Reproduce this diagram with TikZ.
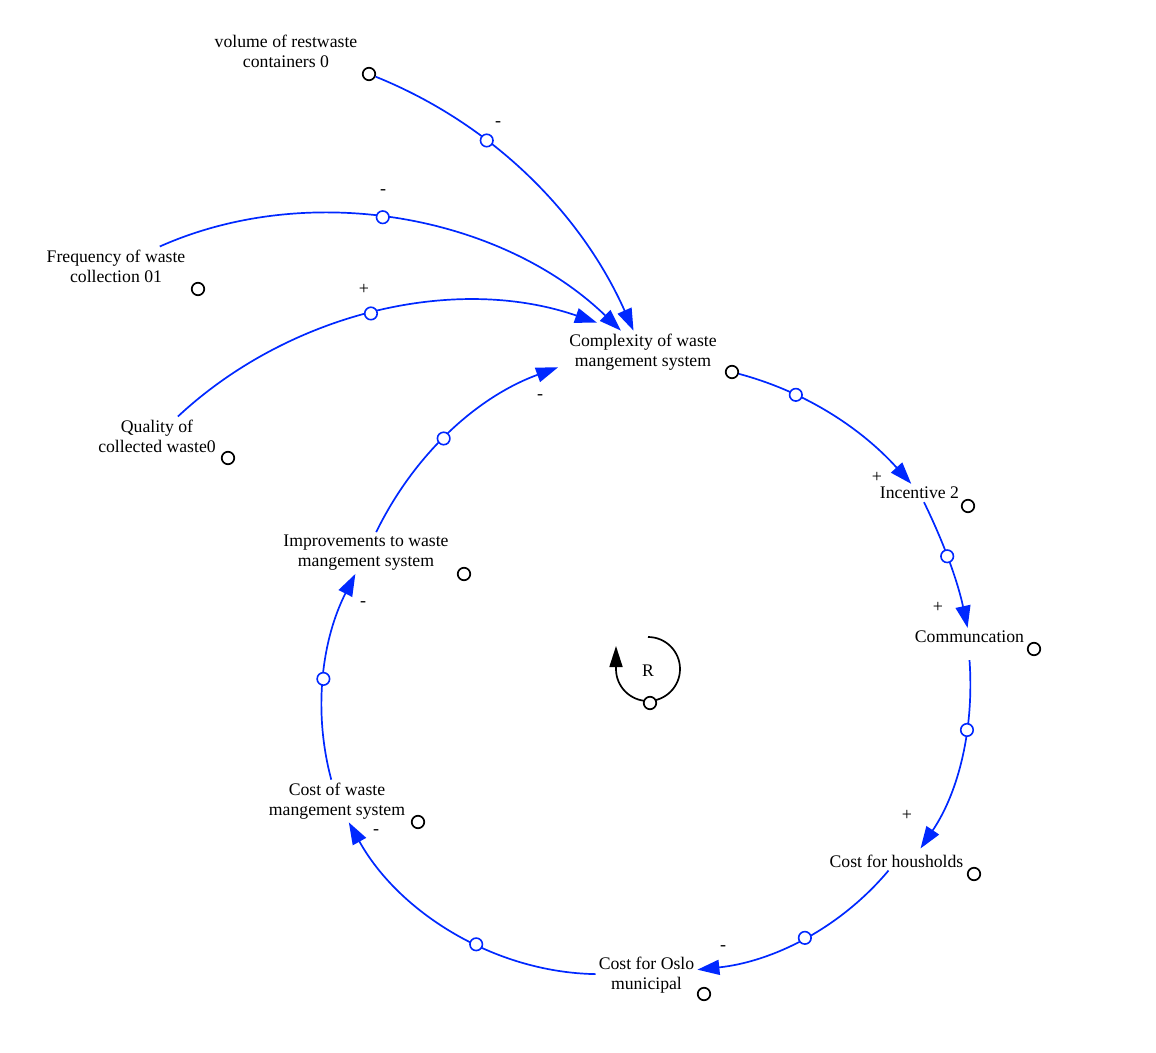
\documentclass[tikz,border=0pt]{standalone}
\usepackage{xcolor}
\usepackage{fontspec}
\setmainfont{Liberation Serif}
\usepackage{tikz}
\usetikzlibrary{arrows.meta, positioning}
\definecolor{linkblue}{RGB}{0,40,255}

\begin{document}
\begin{tikzpicture}[x=1pt, y=1pt]
\tikzstyle{var} = [align=center, inner sep=3pt, font=\fontsize{17.7}{20}\selectfont]
\tikzstyle{dot} = [circle, draw, line width=1.7pt, fill=white, minimum size=12.5pt, inner sep=0pt]
\tikzstyle{knot} = [circle, draw=linkblue, line width=1.6pt, fill=white, minimum size=12.5pt, inner sep=0pt]
\tikzstyle{link} = [color=linkblue, line width=1.7pt, -{Triangle[length=22pt, width=15pt]}, looseness=0.9]
\tikzstyle{pol} = [font=\fontsize{18}{18}\selectfont, inner sep=0pt]

\useasboundingbox (0,0) rectangle (1156,-1052);

\node (vol) [var] at (286,-51) {volume of restwaste\\containers 0};
\node (freq) [var] at (116,-266) {Frequency of waste\\collection 01};
\node (qual) [var] at (157,-436) {Quality of\\collected waste0};
\node (comp) [var] at (643,-352) {Complexity of waste\\mangement system};
\node (inc) [var] at (919.5,-493) {Incentive 2};
\node (comm) [var] at (969.5,-637) {Communcation};
\node (hh) [var] at (896.5,-861) {Cost for housholds};
\node (oslo) [var] at (646.5,-975) {Cost for Oslo\\municipal};
\node (cwms) [var] at (337,-801) {Cost of waste\\mangement system};
\node (imp) [var] at (366,-553) {Improvements to waste\\mangement system};

\node (vol-o) [dot] at (369,-74) {};
\node (freq-o) [dot] at (198,-289) {};
\node (qual-o) [dot] at (228,-458) {};
\node (comp-o) [dot] at (732,-372) {};
\node (inc-o) [dot] at (968,-506) {};
\node (comm-o) [dot] at (1034,-649) {};
\node (hh-o) [dot] at (974,-874) {};
\node (oslo-o) [dot] at (704,-994) {};
\node (cwms-o) [dot] at (418,-822) {};
\node (imp-o) [dot] at (464,-574) {};

\draw [link] (vol-o) to[out=-22, in=114] node[knot, pos=0.345] (k1) {} (comp);
\draw [link] (freq) to[out=24, in=136] node[knot, pos=0.46] (k2) {} (comp);
\draw [link] (qual) to[out=43, in=161] node[knot, pos=0.49] (k3) {} ([xshift=-46pt, yshift=8pt]comp.north);
\draw [link] (comp-o) to[out=-15, in=132] node[knot, pos=0.29] (k4) {} (inc);
\draw [link] (inc) to[out=-64, in=102] node[knot, pos=0.44] (k5) {} (comm);
\draw [link] ([yshift=-14pt]comm.south) to[out=-86, in=56] node[knot, pos=0.35] (k6) {} ([xshift=24pt, yshift=3pt]hh.north);
\draw [link] (hh) to[out=-130, in=6] node[knot, pos=0.49] (k7) {} (oslo);
\draw [link] (oslo) to[out=179, in=-61] node[knot, pos=0.41] (k8) {} (cwms);
\draw [link] (cwms) to[out=105, in=-117] node[knot, pos=0.48] (k9) {} (imp);
\draw [link] (imp) to[out=64, in=200] node[knot, pos=0.46] (k10) {} ([xshift=-8pt, yshift=6pt]comp.south west);

\node (s1) [pol] at (498,-124) {-};
\node (s2) [pol] at (383,-192) {-};
\node (s3) [pol] at (364,-289) {+};
\node (s4) [pol] at (877,-477) {+};
\node (s5) [pol] at (938,-607) {+};
\node (s6) [pol] at (907,-815) {+};
\node (s7) [pol] at (723,-948) {-};
\node (s8) [pol] at (376,-832) {-};
\node (s9) [pol] at (363,-604) {-};
\node (s10) [pol] at (540,-397) {-};

\node (R) [var] at (648,-671) {R};
\draw [line width=1.7pt, -{Triangle[length=21pt, width=13pt]}] (R.center) ++(0,34) arc[start angle=90, end angle=-180, radius=32] -- ++(0,23);
\node (R-o) [dot] at (650,-703) {};
\end{tikzpicture}
\end{document}
